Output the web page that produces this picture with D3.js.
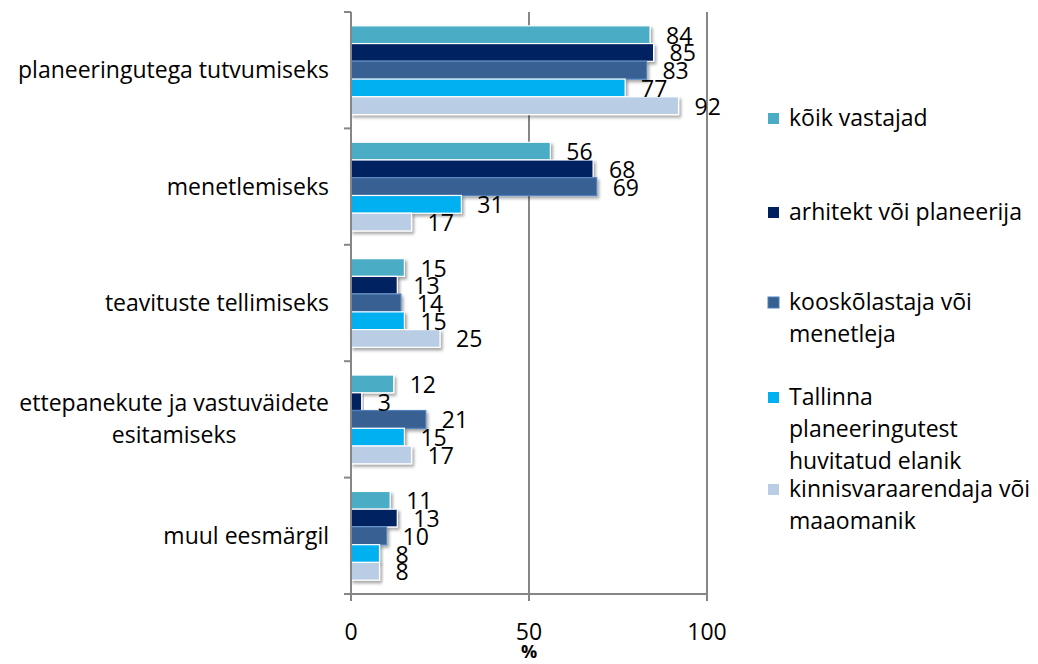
<!DOCTYPE html>
<html>
<head>
<meta charset="utf-8">
<title>Eesmärgid</title>
<style type="text/css">
    body{ margin: 0; background: #fff; }
    text{ font-family: "Open Sans", sans-serif; fill: #000; }
    .grid{ stroke: #868686; stroke-width: 2px; }
</style>
</head>
<body>
<div id="chart"></div>
<script src="https://cdn.jsdelivr.net/npm/d3@7"></script>
<script>
    // categories (top to bottom) and their display lines
    var categories = ["planeeringutega tutvumiseks", "menetlemiseks", "teavituste tellimiseks",
                      "ettepanekute ja vastuväidete esitamiseks", "muul eesmärgil"];
    var categoryLines = [["planeeringutega tutvumiseks"], ["menetlemiseks"], ["teavituste tellimiseks"],
                         ["ettepanekute ja vastuväidete", "esitamiseks"], ["muul eesmärgil"]];

    var seriesNames = ["kõik vastajad", "arhitekt või planeerija", "kooskõlastaja või menetleja",
                       "Tallinna planeeringutest huvitatud elanik", "kinnisvaraarendaja või maaomanik"];
    var legendLines = [["kõik vastajad"], ["arhitekt või planeerija"], ["kooskõlastaja või", "menetleja"],
                       ["Tallinna", "planeeringutest", "huvitatud elanik"], ["kinnisvaraarendaja või", "maaomanik"]];
    var seriesColors = ["#4BACC6", "#002060", "#376092", "#00B0F0", "#B9CDE5"];
    var seriesStroke = ["#fff", "#fff", "#4F81BD", "#fff", "#fff"];

    // values per series, in category order
    var kõikVastajad   = [84, 56, 15, 12, 11];
    var arhitekt       = [85, 68, 13, 3, 13];
    var kooskõlastaja  = [83, 69, 14, 21, 10];
    var elanik         = [77, 31, 15, 15, 8];
    var arendaja       = [92, 17, 25, 17, 8];
    var seriesValues = [kõikVastajad, arhitekt, kooskõlastaja, elanik, arendaja];

    var xTicks = [0, 50, 100];

    var width = 1038, height = 664;
    var plot = {left: 351, right: 707, top: 12, bottom: 594};
    var fontSize = "23px";

    var svg = d3.select("#chart").append("svg")
        .attr("width", width)
        .attr("height", height);

    var defs = svg.append("defs");
    var f = defs.append("filter").attr("id", "shadow")
        .attr("x", "-5%").attr("y", "-30%").attr("width", "120%").attr("height", "180%");
    f.append("feDropShadow").attr("dx", 2).attr("dy", 2.5).attr("stdDeviation", 1.6)
        .attr("flood-color", "#000").attr("flood-opacity", 0.35);

    var x = d3.scaleLinear().domain([0, 100]).range([plot.left, plot.right]);
    var y = d3.scaleBand().domain(categories).range([plot.top, plot.bottom]);
    var ys = d3.scaleBand().domain(d3.range(seriesNames.length))
        .range([0, y.bandwidth()]).paddingOuter(0.78);

    // vertical gridlines
    svg.append("g").selectAll("line")
        .data(xTicks.filter(d => d > 0))
        .enter().append("line")
            .attr("class", "grid")
            .attr("x1", d => x(d)).attr("x2", d => x(d))
            .attr("y1", plot.top).attr("y2", plot.bottom);

    // bars
    var groups = svg.append("g").selectAll("g")
        .data(categories)
        .enter().append("g")
            .attr("transform", d => "translate(0," + y(d) + ")");

    groups.each(function (cat, ci) {
        var g = d3.select(this);
        seriesValues.forEach(function (vals, si) {
            g.append("rect")
                .attr("x", x(0))
                .attr("y", ys(si))
                .attr("width", x(vals[ci]) - x(0))
                .attr("height", ys.bandwidth())
                .attr("fill", seriesColors[si])
                .attr("stroke", seriesStroke[si])
                .attr("stroke-width", 1.2)
                .attr("filter", "url(#shadow)");
        });
        seriesValues.forEach(function (vals, si) {
            g.append("text")
                .attr("x", x(vals[ci]) + 16)
                .attr("y", ys(si) + ys.bandwidth() / 2 + 9)
                .attr("font-size", fontSize)
                .text(vals[ci]);
        });
    });

    // y axis line with boundary ticks
    var axisColor = "#868686";
    svg.append("line")
        .attr("x1", plot.left).attr("x2", plot.left)
        .attr("y1", plot.top).attr("y2", plot.bottom + 7)
        .attr("stroke", axisColor).attr("stroke-width", 2);
    var bounds = categories.map(c => y(c)).concat([plot.bottom]);
    svg.append("g").selectAll("line")
        .data(bounds)
        .enter().append("line")
            .attr("x1", plot.left - 7).attr("x2", plot.left)
            .attr("y1", d => d).attr("y2", d => d)
            .attr("stroke", axisColor).attr("stroke-width", 2);

    // x axis
    svg.append("line")
        .attr("x1", plot.left - 7).attr("x2", plot.right)
        .attr("y1", plot.bottom).attr("y2", plot.bottom)
        .attr("stroke", axisColor).attr("stroke-width", 2);
    svg.append("g").selectAll("line")
        .data(xTicks)
        .enter().append("line")
            .attr("x1", d => x(d)).attr("x2", d => x(d))
            .attr("y1", plot.bottom).attr("y2", plot.bottom + 7)
            .attr("stroke", axisColor).attr("stroke-width", 2);
    svg.append("g").selectAll("text")
        .data(xTicks)
        .enter().append("text")
            .attr("x", d => x(d))
            .attr("y", 640)
            .attr("text-anchor", "middle")
            .attr("font-size", fontSize)
            .text(d => d);
    svg.append("text")
        .attr("x", x(50)).attr("y", 658)
        .attr("text-anchor", "middle")
        .attr("font-size", "18px")
        .attr("font-weight", "bold")
        .text("%");

    // category labels, centred block right-aligned to the axis
    categoryLines.forEach(function (lines, ci) {
        var cy = y(categories[ci]) + y.bandwidth() / 2;
        var t = svg.append("text")
            .attr("text-anchor", "middle")
            .attr("font-size", fontSize);
        var spans = lines.map(function (ln, li) {
            return t.append("tspan")
                .attr("x", 0)
                .attr("y", cy + 8 + (li - (lines.length - 1) / 2) * 32)
                .text(ln);
        });
        var w = t.node().getBBox().width;
        spans.forEach(s => s.attr("x", 329 - w / 2));
    });

    // legend
    var legendY = [118, 212, 302, 397, 489];
    legendLines.forEach(function (lines, si) {
        svg.append("rect")
            .attr("x", 768).attr("y", legendY[si] - 5)
            .attr("width", 11).attr("height", 11)
            .attr("fill", seriesColors[si])
            .attr("stroke", si === 2 ? "#4F81BD" : "none");
        lines.forEach(function (ln, li) {
            svg.append("text")
                .attr("x", 789)
                .attr("y", legendY[si] + 8 + li * 32)
                .attr("font-size", fontSize)
                .text(ln);
        });
    });
</script>
</body>
</html>
